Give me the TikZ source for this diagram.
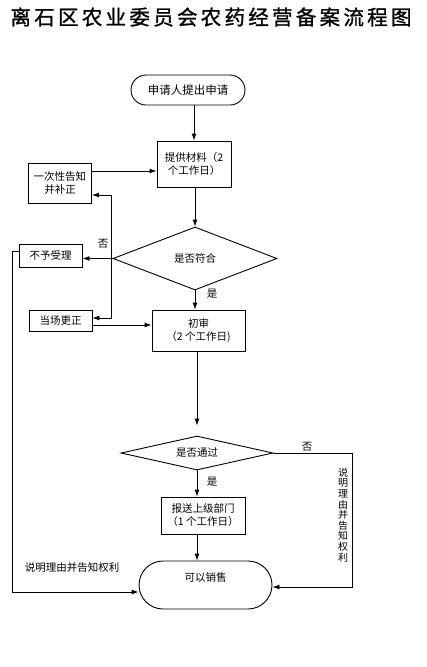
\documentclass[tikz,border=0pt]{standalone}
\usepackage{fontspec}
\setmainfont{Noto Sans CJK SC}
\usetikzlibrary{shapes.geometric,shapes.misc,arrows.meta}
\begin{document}
\begin{tikzpicture}[x=1pt,y=-1pt,
  every node/.style={font=\fontsize{10.5}{13}\selectfont},
  box/.style={draw,line width=0.9pt,rectangle,align=center,inner sep=1pt},
  term/.style={draw,line width=0.9pt,rounded rectangle,inner sep=1pt},
  decision/.style={draw,line width=0.9pt,diamond,aspect=3,inner sep=0pt},
  flow/.style={line width=0.9pt,-{Latex[length=7pt,width=5pt]}}]
\useasboundingbox (0,0) rectangle (426,667);
\node[font=\fontsize{20.5}{24}\selectfont\addfontfeature{LetterSpace=16,FakeBold=1.2}] (title) at (211,17) {离石区农业委员会农药经营备案流程图};
\begin{scope}
\node[term, minimum width=116, minimum height=30, font=\fontsize{11.5}{13}\selectfont] (apply) at (188,90) {申请人提出申请};
\node[box, minimum width=74, minimum height=46] (mat) at (194,164) {提供材料（2\\个工作日）};
\node[box, minimum width=63, minimum height=40] (inform) at (60,183) {一次性告知\\并补正};
\node[decision, minimum width=164, minimum height=63] (chk1) at (195,258.5) {是否符合};
\node[box, minimum width=63, minimum height=23] (reject) at (50.5,255.5) {不予受理};
\node[box, minimum width=63, minimum height=21] (onspot) at (60.5,321) {当场更正};
\node[box, minimum width=93, minimum height=41] (review) at (198.5,330.5) {初审\\（2 个工作日)};
\node[decision, minimum width=152, minimum height=34] (chk2) at (197,453) {是否通过};
\node[box, minimum width=84, minimum height=37] (report) at (203,515.5) {报送上级部门\\（1 个工作日）};
\node[term, minimum width=135, minimum height=48, text depth=15pt] (sell) at (205.5,585) {可以销售};
\path[draw,flow] (mat.north |- apply.south) -- (mat.north);
\path[draw,flow] ([yshift=12pt]inform.east) -- ([yshift=12pt]inform.east -| mat.west);
\path[draw,flow] (chk1.north |- mat.south) -- (chk1.north);
\path[draw,flow] (chk1.west) -- (chk1.west -| reject.east);
\path[draw,flow] ([xshift=-1pt]chk1.west) |- ([yshift=-12pt]inform.east);
\path[draw,flow] ([xshift=-1pt]chk1.west) |- ([yshift=3pt]onspot.east);
\path[draw,flow] ([yshift=-4pt]onspot.east) -- ([yshift=-4pt]onspot.east -| review.west);
\path[draw,flow] (chk1.south) -- (chk1.south |- review.north);
\path[draw,flow,shorten >=10pt] (chk2.north |- review.south) -- (chk2.north);
\path[draw,flow] (chk2.south) -- (chk2.south |- report.north);
\path[draw,flow] (chk2.south |- report.south) -- (chk2.south |- sell.north);
\coordinate (turnR) at (352,453);
\path[draw,flow] (chk2.east) -- (turnR) |- ([yshift=-2pt]sell.east);
\coordinate (turnL) at (12,251);
\path[draw,flow] ([yshift=4.5pt]reject.west) -- (turnL) |- ([yshift=-7pt]sell.west);
\node (no1) at (103,244) {否};
\node (yes1) at (212,294) {是};
\node (no2) at (307,447) {否};
\node (yes2) at (212,482) {是};
\node[font=\fontsize{10}{10.6}\selectfont, align=center] (whyR) at (343,515) {说\\明\\理\\由\\并\\告\\知\\权\\利};
\node (whyL) at (72,568) {说明理由并告知权利};
\end{scope}
\end{tikzpicture}
\end{document}
